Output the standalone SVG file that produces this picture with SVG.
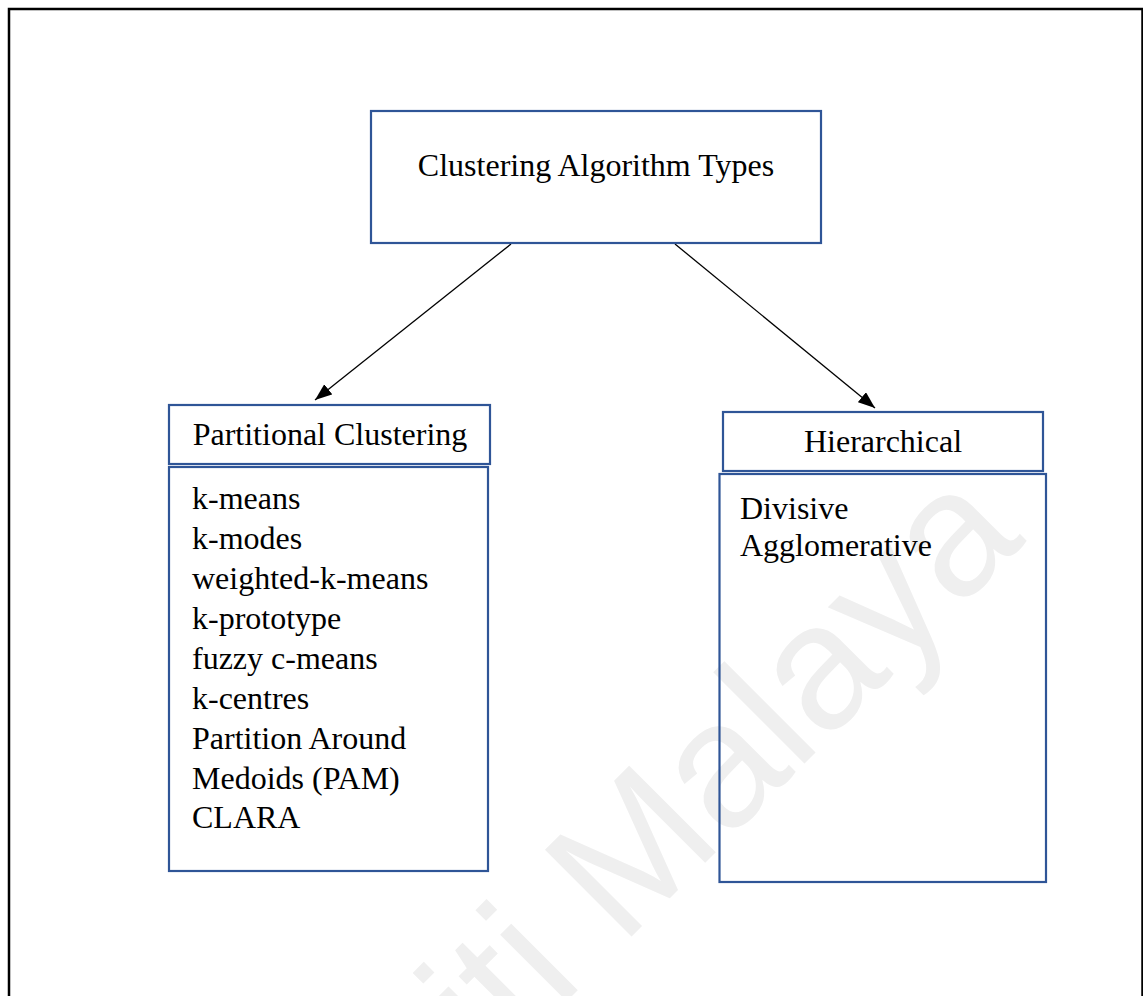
<svg xmlns="http://www.w3.org/2000/svg" width="1143" height="996" viewBox="0 0 1143 996">
  <style>
    .box { fill: none; stroke: #2F5597; stroke-width: 2.2; }
    .txt { font-family: "Liberation Serif", "Times New Roman", serif; font-size: 32px; fill: #000; }
    .mid { text-anchor: middle; }
    .conn { stroke: #000; stroke-width: 1.3; fill: none; }
    .wm { font-family: "Liberation Sans", Arial, sans-serif; font-size: 178px; fill: #EFEFEF; }
  </style>
  <defs>
    <marker id="arrow" markerUnits="userSpaceOnUse" markerWidth="18" markerHeight="14" refX="17" refY="6.5" orient="auto">
      <path d="M0,0 L17,6.5 L0,13 z" fill="#000"/>
    </marker>
  </defs>
  <rect x="0" y="0" width="1143" height="996" fill="#fff"/>
  <g id="watermark">
    <text class="wm" x="1027" y="541" text-anchor="end" transform="rotate(-45 1027 541)">Universiti Malaya</text>
  </g>
  <rect id="frame" x="9" y="9" width="1133.5" height="1100" fill="none" stroke="#000" stroke-width="2.5"/>
  <g id="connectors">
    <line class="conn" x1="511" y1="244" x2="315" y2="400" marker-end="url(#arrow)"/>
    <line class="conn" x1="675" y1="244" x2="875" y2="408" marker-end="url(#arrow)"/>
  </g>
  <g id="root">
    <rect class="box" x="371" y="111" width="450" height="132"/>
    <text class="txt mid" x="596" y="176">Clustering Algorithm Types</text>
  </g>
  <g id="partitional-header">
    <rect class="box" x="169" y="405" width="321" height="59"/>
    <text class="txt mid" x="330" y="445">Partitional Clustering</text>
  </g>
  <g id="partitional-list">
    <rect class="box" x="169" y="467" width="319" height="404"/>
    <text class="txt" x="192" y="509">k-means</text>
    <text class="txt" x="192" y="549">k-modes</text>
    <text class="txt" x="192" y="589">weighted-k-means</text>
    <text class="txt" x="192" y="629">k-prototype</text>
    <text class="txt" x="192" y="669">fuzzy c-means</text>
    <text class="txt" x="192" y="709">k-centres</text>
    <text class="txt" x="192" y="749">Partition Around</text>
    <text class="txt" x="192" y="789">Medoids (PAM)</text>
    <text class="txt" x="192" y="828">CLARA</text>
  </g>
  <g id="hierarchical-header">
    <rect class="box" x="723" y="412" width="320" height="59"/>
    <text class="txt mid" x="883" y="452">Hierarchical</text>
  </g>
  <g id="hierarchical-list">
    <rect class="box" x="719.5" y="474" width="326.5" height="408"/>
    <text class="txt" x="740" y="519">Divisive</text>
    <text class="txt" x="740" y="556">Agglomerative</text>
  </g>
</svg>
